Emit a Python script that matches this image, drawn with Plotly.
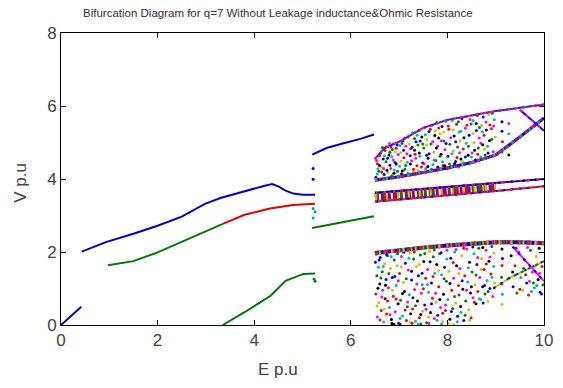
import plotly.graph_objects as go

# ---------------- data ----------------
# periodic branches
b0_E = [0.0, 0.42]
b0_V = [0.0, 0.50]
b1_E = [0.43, 0.93, 1.5, 2.0, 2.5, 2.98, 3.3, 3.66, 4.0, 4.2, 4.37, 4.5, 4.65, 4.81, 5.0, 5.26]
b1_V = [2.01, 2.27, 2.50, 2.72, 2.97, 3.32, 3.48, 3.62, 3.74, 3.81, 3.86, 3.80, 3.68, 3.60, 3.57, 3.57]
r1_E = [3.35, 3.8, 4.33, 4.8, 5.26]
r1_V = [2.77, 3.02, 3.19, 3.29, 3.32]
g1_E = [0.97, 1.5, 2.0, 2.64, 3.0, 3.35]
g1_V = [1.64, 1.75, 1.99, 2.36, 2.58, 2.77]
g2_E = [3.35, 3.8, 4.34, 4.65, 5.02, 5.26]
g2_V = [0.0, 0.35, 0.80, 1.21, 1.40, 1.41]
b3_E = [5.2, 5.5, 5.85, 6.2, 6.48]
b3_V = [4.67, 4.85, 4.98, 5.10, 5.22]
g3_E = [5.2, 5.85, 6.48]
g3_V = [2.66, 2.83, 2.98]
jump_E = [5.22, 5.22, 5.22, 5.22, 5.24, 5.26, 5.26]
jump_V = [4.29, 3.99, 3.19, 2.93, 1.26, 3.10, 1.20]

# chaotic band edges
lensTop_E = [6.5, 6.7, 7.0, 7.5, 8.0, 8.5, 9.0, 9.5, 10.0]
lensTop_V = [4.55, 4.85, 5.02, 5.40, 5.62, 5.75, 5.86, 5.95, 6.04]
lensBot_E = [6.5, 7.0, 7.5, 8.0, 8.5, 9.0, 9.5, 10.0]
lensBot_V = [3.97, 4.06, 4.18, 4.30, 4.45, 4.66, 5.15, 5.67]
xCross_E = [9.5, 10.0]
xCross_V = [5.90, 5.32]
midTop_E = [6.5, 8.0, 9.0, 10.0]
midTop_V = [3.62, 3.78, 3.88, 4.00]
midBot_E = [6.5, 8.0, 9.0, 10.0]
midBot_V = [3.38, 3.55, 3.67, 3.80]
midCen_E = [6.5, 8.0, 9.0]
midCen_V = [3.50, 3.66, 3.77]
lowTop_E = [6.5, 7.0, 7.5, 8.0, 8.5, 9.0, 9.5, 10.0]
lowTop_V = [1.97, 2.05, 2.12, 2.18, 2.23, 2.27, 2.27, 2.24]
diag1_E = [8.95, 9.3, 10.0]
diag1_V = [1.00, 1.30, 1.75]
diag2_E = [9.35, 10.0]
diag2_V = [2.15, 1.20]

# chaotic interior points: upper lens
lens_E = [6.52, 6.55, 6.58, 6.6, 6.62, 6.64, 6.67, 6.69, 6.71, 6.73, 6.74, 6.56,
          6.77, 6.79, 6.81, 6.83, 6.85, 6.88, 6.9, 6.92, 6.94, 6.96, 6.98, 6.86, 6.8,
          7.01, 7.03, 7.05, 7.08, 7.1, 7.12, 7.14, 7.17, 7.19, 7.21, 7.23, 7.24, 7.06,
          7.26, 7.28, 7.3, 7.32, 7.35, 7.37, 7.39, 7.41, 7.43, 7.45, 7.47, 7.49, 7.33,
          7.51, 7.53, 7.55, 7.58, 7.6, 7.62, 7.64, 7.66, 7.68, 7.7, 7.72, 7.74, 7.57,
          7.76, 7.78, 7.8, 7.83, 7.85, 7.87, 7.89, 7.91, 7.93, 7.95, 7.97, 7.99, 7.82,
          8.01, 8.03, 8.05, 8.08, 8.1, 8.12, 8.14, 8.17, 8.19, 8.21, 8.23, 8.24,
          8.26, 8.28, 8.3, 8.33, 8.35, 8.37, 8.39, 8.41, 8.43, 8.45, 8.47, 8.49,
          8.51, 8.53, 8.55, 8.58, 8.6, 8.62, 8.64, 8.66, 8.69, 8.71, 8.73, 8.74,
          8.76, 8.78, 8.8, 8.83, 8.85, 8.87, 8.89, 8.91, 8.93, 8.95, 8.97, 8.99,
          9.13, 9.13, 9.14, 9.13, 9.27, 9.27, 9.26, 9.27]
lens_V = [4.05, 4.42, 4.21, 4.63, 3.99, 4.33, 4.55, 4.12, 4.78, 4.47, 4.02, 4.28,
          4.18, 4.66, 4.38, 4.88, 4.09, 4.52, 4.25, 4.74, 4.41, 4.93, 4.06, 4.81, 4.97,
          4.35, 4.72, 4.14, 5.05, 4.58, 4.27, 4.90, 4.46, 5.14, 4.10, 4.64, 4.83, 4.98,
          4.50, 5.27, 4.20, 4.79, 5.02, 4.36, 4.93, 5.33, 4.62, 4.18, 5.15, 4.44, 4.68,
          4.85, 5.41, 4.29, 5.08, 4.57, 5.30, 4.22, 4.96, 5.47, 4.40, 4.73, 5.19, 4.65,
          4.51, 5.55, 4.90, 4.30, 5.24, 4.68, 5.44, 4.37, 5.04, 4.80, 5.58, 4.27, 5.12,
          4.62, 5.36, 4.95, 4.35, 5.60, 4.77, 5.18, 4.48, 5.50, 4.88, 4.33, 5.29,
          5.05, 4.55, 5.66, 4.82, 4.41, 5.39, 4.98, 5.70, 4.65, 5.20, 4.45, 5.51,
          4.71, 5.60, 5.00, 4.52, 5.33, 5.74, 4.85, 5.12, 4.60, 5.47, 4.94, 5.70,
          5.20, 4.66, 5.56, 4.90, 5.77, 5.05, 4.62, 5.38, 5.80, 4.75, 5.62, 5.15,
          5.57, 5.31, 5.02, 4.74, 5.52, 5.24, 4.93, 4.66]
lens2_E = [6.533, 6.547, 6.571, 6.594, 6.617, 6.639, 6.653, 6.681, 6.697, 6.722, 6.748, 6.763,
           6.791, 6.808, 6.827, 6.849, 6.873, 6.894, 6.917, 6.936, 6.967, 6.983, 7.017, 7.041,
           7.066, 7.093, 7.118, 7.137, 7.161, 7.186, 7.209, 7.233, 7.271, 7.298, 7.319, 7.346,
           7.372, 7.396, 7.418, 7.437, 7.463, 7.489, 7.517, 7.543, 7.566, 7.594, 7.621, 7.647,
           7.673, 7.697, 7.722, 7.749, 7.772, 7.797, 7.823, 7.848, 7.874, 7.898, 7.922, 7.947,
           7.972, 8.016, 8.043, 8.068, 8.094, 8.117, 8.146, 8.172, 8.198, 8.226, 8.253, 8.279,
           8.311, 8.342, 8.371, 8.404, 8.436, 8.468, 8.497, 8.527, 8.562, 8.597, 8.628, 8.663,
           8.694, 8.727, 8.768, 8.806, 8.842, 8.879, 8.918, 8.957]
lens2_V = [4.51, 4.14, 3.96, 4.37, 4.71, 4.19, 4.86, 4.29, 4.64, 4.90, 4.24, 4.57,
           4.03, 4.73, 4.29, 4.61, 4.98, 4.16, 4.45, 4.84, 4.21, 4.67, 4.92, 4.49,
           4.22, 4.79, 5.12, 4.37, 4.69, 4.16, 4.96, 4.41, 4.87, 4.27, 5.11, 4.57,
           5.20, 4.23, 4.71, 5.04, 4.33, 4.96, 4.41, 5.21, 4.93, 4.34, 4.69, 5.36,
           4.27, 5.02, 4.52, 5.33, 4.85, 4.33, 5.40, 4.62, 5.05, 4.47, 5.29, 4.36,
           4.97, 5.45, 4.41, 5.13, 4.69, 5.34, 4.42, 5.02, 4.59, 5.57, 4.72, 5.31,
           4.48, 5.13, 4.60, 5.47, 4.90, 5.63, 4.60, 5.25, 4.79, 5.52, 4.68, 5.41,
           4.98, 5.29, 4.82, 5.34, 4.71, 5.48, 5.09, 5.45]

# chaotic interior points: lower band
low_E = [6.51, 6.52, 6.54, 6.55, 6.57, 6.58, 6.6, 6.61, 6.63, 6.65, 6.66, 6.68, 6.7, 6.71, 6.73, 6.74,
         6.76, 6.78, 6.8, 6.82, 6.84, 6.86, 6.88, 6.9, 6.92, 6.94, 6.96, 6.98, 6.99,
         7.01, 7.03, 7.05, 7.07, 7.09, 7.11, 7.13, 7.15, 7.17, 7.19, 7.21, 7.23, 7.24,
         7.26, 7.28, 7.3, 7.32, 7.34, 7.36, 7.38, 7.4, 7.42, 7.44, 7.46, 7.48, 7.49,
         7.51, 7.53, 7.55, 7.57, 7.59, 7.61, 7.63, 7.65, 7.67, 7.69, 7.71, 7.73, 7.74,
         7.76, 7.78, 7.8, 7.82, 7.84, 7.86, 7.88, 7.9, 7.92, 7.94, 7.96, 7.98, 7.99,
         8.01, 8.03, 8.05, 8.07, 8.09, 8.11, 8.13, 8.15, 8.17, 8.19, 8.21, 8.23, 8.24,
         8.26, 8.28, 8.3, 8.32, 8.34, 8.36, 8.38, 8.4, 8.42, 8.44, 8.46, 8.48, 8.49,
         8.51, 8.53, 8.55, 8.57, 8.59, 8.61, 8.63, 8.65, 8.67, 8.69, 8.71, 8.73, 8.74,
         8.76, 8.78, 8.8, 8.82, 8.84, 8.86, 8.88, 8.9, 8.92, 8.94, 8.96, 8.98,
         9.13, 9.14, 9.13, 9.12, 9.13, 9.14, 9.13,
         9.32, 9.36, 9.4, 9.44, 9.48, 9.52, 9.56, 9.6, 9.64, 9.68, 9.72, 9.76, 9.8,
         9.84, 9.88, 9.92, 9.96, 9.98, 9.7, 9.85]
low_V = [1.72, 0.85, 1.35, 0.22, 1.58, 0.61, 1.12, 1.85, 0.40, 1.46, 0.95, 0.08, 1.68, 0.72, 1.25, 0.30,
         1.90, 1.02, 0.48, 1.55, 0.15, 1.30, 0.79, 1.78, 0.36, 1.08, 1.62, 0.58, 0.05,
         1.41, 0.68, 1.88, 0.25, 1.17, 0.92, 1.69, 0.12, 0.50, 1.51, 0.83, 1.97, 0.31,
         1.23, 0.44, 1.81, 0.97, 0.10, 1.60, 0.66, 1.35, 0.20, 1.92, 0.87, 1.10, 0.38,
         1.74, 0.55, 1.28, 0.06, 1.52, 0.90, 2.02, 0.34, 1.15, 0.73, 1.87, 0.18, 1.42,
         0.62, 1.66, 0.27, 1.05, 1.95, 0.48, 1.38, 0.09, 0.84, 1.58, 0.40, 1.20, 2.05,
         0.70, 1.47, 0.16, 1.83, 0.95, 0.45, 1.28, 2.00, 0.60, 1.62, 0.24, 1.08, 0.82,
         1.55, 0.35, 1.90, 0.98, 0.12, 1.35, 0.66, 2.08, 1.18, 0.42, 1.72, 0.88, 0.20,
         1.45, 0.75, 1.95, 1.10, 0.58, 1.66, 0.92, 2.10, 1.30, 0.70, 1.82, 1.05, 0.60,
         1.52, 0.85, 2.05, 1.22, 0.65, 1.75, 1.00, 1.40, 2.15, 0.78, 1.60, 1.15,
         2.08, 1.82, 1.63, 1.31, 1.12, 0.84, 0.57,
         1.90, 1.05, 1.62, 0.88, 2.00, 1.30, 0.95, 1.78, 1.15, 0.82, 2.05, 1.45, 1.02,
         1.88, 1.25, 0.90, 1.60, 1.10, 1.20, 1.08]
low2_E = [6.527, 6.541, 6.563, 6.586, 6.604, 6.622, 6.641, 6.672, 6.693, 6.718, 6.739, 6.761,
          6.787, 6.813, 6.836, 6.862, 6.891, 6.913, 6.938, 6.967, 6.984, 7.019, 7.044, 7.072,
          7.096, 7.124, 7.148, 7.176, 7.203, 7.227, 7.258, 7.287, 7.314, 7.339, 7.367, 7.392,
          7.417, 7.448, 7.476, 7.503, 7.531, 7.558, 7.586, 7.614, 7.642, 7.671, 7.702, 7.728,
          7.757, 7.787, 7.816, 7.843, 7.871, 7.903, 7.932, 7.961, 7.988, 8.021, 8.052, 8.083,
          8.118, 8.147, 8.178, 8.208, 8.238, 8.272, 8.305, 8.337, 8.367, 8.398, 8.432, 8.463,
          8.497, 8.526, 8.558, 8.593, 8.627, 8.662, 8.698, 8.733, 8.769, 8.806, 8.843, 8.881,
          8.925, 8.963, 6.85, 7.02, 7.27, 7.45, 7.62, 7.88, 8.13,
          9.35, 9.42, 9.5, 9.58, 9.66, 9.74, 9.82, 9.9, 9.95, 9.62, 9.78, 9.91]
low2_V = [1.93, 0.52, 1.01, 1.78, 0.14, 1.29, 0.77, 1.60, 0.44, 1.09, 1.93, 0.66,
          1.41, 0.28, 1.88, 0.95, 0.02, 1.33, 0.71, 1.95, 1.21, 0.18, 1.59, 0.86,
          1.99, 0.41, 1.27, 0.63, 1.83, 0.08, 1.47, 0.75, 2.00, 0.53, 1.12, 0.02,
          1.66, 0.29, 1.42, 0.99, 1.96, 0.43, 1.11, 0.21, 1.73, 0.58, 1.33, 2.06,
          0.87, 0.13, 1.49, 0.70, 1.98, 0.32, 1.27, 0.55, 1.81, 0.04, 1.14, 0.37,
          1.71, 0.78, 2.07, 0.09, 1.41, 0.51, 1.21, 2.10, 0.27, 0.95, 1.57, 0.13,
          1.05, 2.14, 0.62, 1.37, 1.85, 0.72, 1.53, 2.12, 1.08, 1.67, 0.92, 1.86,
          1.31, 1.97, 0.04, 0.02, 0.05, 0.03, 0.04, 0.03, 0.02,
          1.45, 2.10, 0.98, 1.55, 2.12, 0.92, 1.60, 2.10, 0.85, 1.38, 1.15, 1.42]

# ---------------- figure ----------------
BLUE = "#0000d0"
RED = "#e00000"
GREEN = "#007a00"
PALETTE = ["#0000ff", "#ff0000", "#008000", "#ff00ff", "#00b8b8", "#c8c800", "#000000"]

fig = go.Figure()


def line(E, V, color, width=2, dash="solid"):
    fig.add_trace(go.Scatter(x=E, y=V, mode="lines", showlegend=False, hoverinfo="skip",
                             line=dict(color=color, width=width, dash=dash)))


def stripe(E, V, width, cols):
    dashes = ["solid", "3px,5px", "2px,7px", "1px,3px,2px,6px", "2px,9px"]
    for c, d in zip(cols, dashes):
        line(E, V, c, width, d)


def dots(E, V, size=3, offset=0):
    cols = [PALETTE[(i + offset) % len(PALETTE)] for i in range(len(E))]
    fig.add_trace(go.Scatter(x=E, y=V, mode="markers", showlegend=False, hoverinfo="skip",
                             marker=dict(color=cols, size=size, line=dict(width=0))))


# chaotic region
dots(lens_E, lens_V)
dots(lens2_E, lens2_V, offset=3)
dots(low_E, low_V)
dots(low2_E, low2_V, offset=4)
stripe(lensTop_E, lensTop_V, 2, ["#2020c0", "#ff00ff", "#0080ff", "#ff0000"])
stripe(lensBot_E, lensBot_V, 3, ["#0000ff", "#ff00ff", "#008000", "#ff0000", "#00b8b8"])
stripe(xCross_E, xCross_V, 2, ["#0000ff", "#ff00ff"])
stripe(midCen_E, midCen_V, 7, ["#8000a0", "#008000", "#ff0000", "#ffffff", "#c8c800"])
stripe(midTop_E, midTop_V, 2, ["#0000ff", "#ff0000", "#ff00ff", "#000000"])
stripe(midBot_E, midBot_V, 2, ["#ff0000", "#0000ff", "#008000", "#ff00ff"])
stripe(lowTop_E, lowTop_V, 4, ["#0000c0", "#008000", "#ff00ff", "#c8c800", "#ff0000"])
stripe(diag1_E, diag1_V, 2, ["#c8c800", "#008000", "#0000ff"])
stripe(diag2_E, diag2_V, 2, ["#ff00ff", "#0000ff"])

# periodic branches
line(b0_E, b0_V, BLUE)
line(b1_E, b1_V, BLUE)
line(g1_E, g1_V, GREEN)
line(r1_E, r1_V, RED)
line(g2_E, g2_V, GREEN)
line(b3_E, b3_V, BLUE)
line(g3_E, g3_V, GREEN)
fig.add_trace(go.Scatter(x=jump_E, y=jump_V, mode="markers", showlegend=False, hoverinfo="skip",
                         marker=dict(color=[BLUE, BLUE, "#00a0a0", "#00a0a0", GREEN, "#00a0a0", GREEN],
                                     size=3)))

axis_common = dict(showline=True, linecolor="black", linewidth=1, mirror="ticks",
                   ticks="inside", ticklen=5, tickcolor="black", showgrid=False, zeroline=False,
                   tickfont=dict(family="Liberation Sans, Arial", size=17, color="#444444"))

fig.update_layout(
    width=563, height=388,
    margin=dict(l=61, r=10, t=33, b=63),
    paper_bgcolor="white", plot_bgcolor="white",
    xaxis=dict(range=[0, 10], tickvals=[0, 2, 4, 6, 8, 10], **axis_common),
    yaxis=dict(range=[0, 8], tickvals=[0, 2, 4, 6, 8], **axis_common),
    annotations=[
        dict(text="Bifurcation Diagram for q=7 Without Leakage inductance&Ohmic Resistance",
             xref="paper", yref="paper", x=0.449, y=1.0, yshift=20, xanchor="center", yanchor="middle",
             showarrow=False, font=dict(family="Liberation Sans, Arial", size=11.5, color="#333333")),
        dict(text="E p.u", xref="paper", yref="paper", x=0.449, y=-0.151, xanchor="center",
             yanchor="middle", showarrow=False,
             font=dict(family="Liberation Sans, Arial", size=17, color="#444444")),
        dict(text="V p.u", xref="paper", yref="paper", x=-0.0854, y=0.486, xanchor="center",
             yanchor="middle", textangle=-90, showarrow=False,
             font=dict(family="Liberation Sans, Arial", size=17, color="#444444")),
    ],
)

fig.write_html("out.html")
